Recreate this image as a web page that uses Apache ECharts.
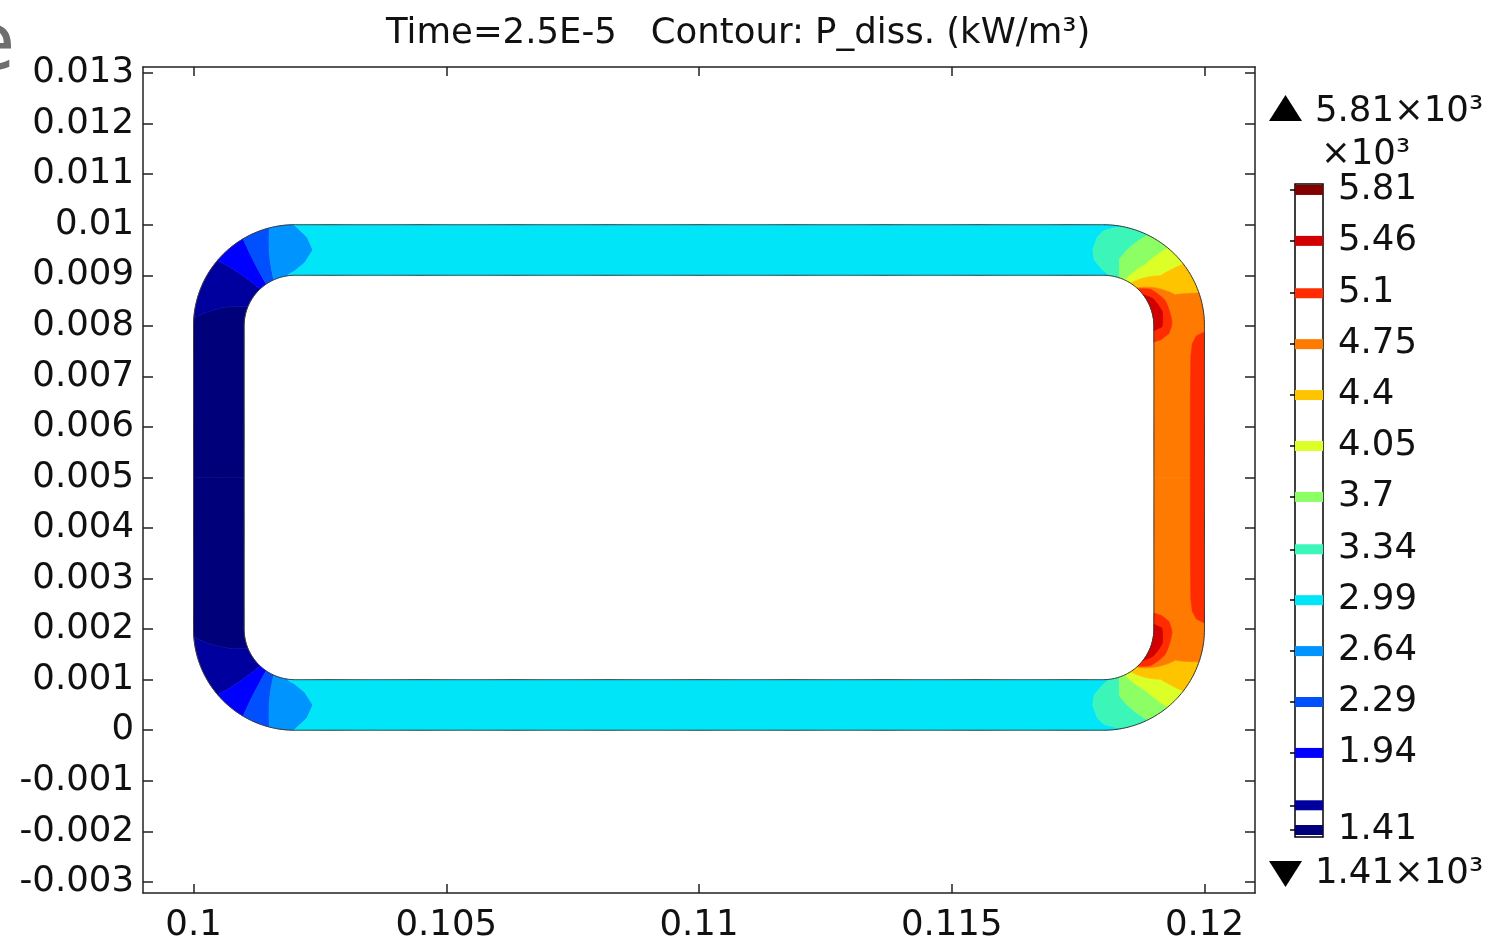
<!DOCTYPE html>
<html>
<head>
<meta charset="utf-8">
<script src="https://cdn.jsdelivr.net/npm/echarts@6/dist/echarts.min.js"></script>
<style>
  html, body { margin: 0; padding: 0; background: #fff; }
  #chart { width: 1512px; height: 941px; }
</style>
</head>
<body>
<div id="chart"></div>
<script>
// axis ticks
const xTicks = [0.1, 0.105, 0.11, 0.115, 0.12];
const yTicks = [-0.003, -0.002, -0.001, 0, 0.001, 0.002, 0.003, 0.004, 0.005,
  0.006, 0.007, 0.008, 0.009, 0.01, 0.011, 0.012, 0.013];

// contour levels (x10^3 kW/m^3) and their colours
const levels = [1.41, 1.58, 1.94, 2.29, 2.64, 2.99, 3.34, 3.7, 4.05, 4.4, 4.75, 5.1, 5.46, 5.81];
const levelColors = ['#00007a', '#00009e', '#0000ff', '#0050ff', '#0094ff', '#00e6f8',
  '#3cf5b8', '#8cff64', '#dcff28', '#ffc400', '#ff7a00', '#ff2c00', '#d20000', '#840000'];
const levelLabels = [5.81, 5.46, 5.1, 4.75, 4.4, 4.05, 3.7, 3.34, 2.99, 2.64, 2.29, 1.94, 1.41];

// ring geometry (m): outer box and corner radii (inner, outer)
const ringX = [0.1, 0.12];
const ringY = [0, 0.01];
const ringR = [0.001, 0.002];

// contour boundaries across the upper half of the ring, as [s, t]
// s: position along the ring (mm units, 0 = left middle, 24 = right middle), t: 0 inner .. 1 outer
const bandEdges = [
  [[0, 0], [0, 1]],
  [[3.25, 0], [3.05, 1]],
  [[3.52, 0], [3.45, 1]],
  [[3.62, 0], [3.66, 1]],
  [[3.73, 0], [3.84, 1]],
  [[3.9, 0], [4.2, 0.25], [4.36, 0.5], [4.25, 0.75], [3.99, 1]],
  [[20.08, 0], [19.82, 0.3], [19.79, 0.5], [19.88, 0.75], [20.12, 1]],
  [[20.2, 0], [20.15, 0.35], [20.2, 0.6], [20.29, 1]],
  [[20.28, 0], [20.38, 0.45], [20.44, 1]],
  [[20.36, 0], [20.54, 0.5], [20.58, 1]],
  [[20.46, 0], [20.74, 0.55], [20.79, 1]],
  [[24, 0], [24, 1]]
];
const bandLevels = [0, 1, 2, 3, 4, 5, 6, 7, 8, 9, 10];

// hot spots (closed against the ring edge they start on)
const hotStrip = [[21.12, 1], [21.2, 0.84], [21.35, 0.76], [21.6, 0.73], [22.5, 0.72], [24, 0.72], [24, 1]];
const hotCorner = [[20.48, 0], [20.58, 0.18], [20.75, 0.32], [20.97, 0.36], [21.15, 0.3], [21.27, 0.15], [21.32, 0]];
const hotCore = [[20.58, 0], [20.68, 0.12], [20.85, 0.2], [21.02, 0.16], [21.1, 0]];
const hotLevels = [11, 11, 12];

const MM = 0.001;
const cxL = ringX[0] + ringR[1], cxR = ringX[1] - ringR[1];
const cyT = ringY[1] - ringR[1], yMid = (ringY[0] + ringY[1]) / 2;
const sA = (cyT - yMid) / MM, sB = sA + 1, sC = sB + (cxR - cxL) / MM, sD = sC + 1, sEnd = sD + sA;

function ringPoint(s, t, flip) {
  const r = ringR[0] + (ringR[1] - ringR[0]) * t;
  let x, y;
  if (s <= sA) { x = cxL - r; y = yMid + s * MM; }
  else if (s <= sB) { const a = Math.PI - (s - sA) * Math.PI / 2; x = cxL + r * Math.cos(a); y = cyT + r * Math.sin(a); }
  else if (s <= sC) { x = cxL + (s - sB) * MM; y = cyT + r; }
  else if (s <= sD) { const a = Math.PI / 2 - (s - sC) * Math.PI / 2; x = cxR + r * Math.cos(a); y = cyT + r * Math.sin(a); }
  else { x = cxR + r; y = cyT - (s - sD) * MM; }
  if (flip) y = ringY[0] + ringY[1] - y;
  return [x, y];
}

// densify a polyline in (s,t)
function walk(pts) {
  const out = [];
  for (let i = 0; i < pts.length - 1; i++) {
    const [s0, t0] = pts[i], [s1, t1] = pts[i + 1];
    const n = Math.max(2, Math.ceil(Math.abs(s1 - s0) / 0.02), Math.ceil(Math.abs(t1 - t0) / 0.05));
    for (let k = 0; k < n; k++) out.push([s0 + (s1 - s0) * k / n, t0 + (t1 - t0) * k / n]);
  }
  out.push(pts[pts.length - 1]);
  return out;
}

const shapes = [];
for (let i = 0; i < bandEdges.length - 1; i++) {
  const a = bandEdges[i], b = bandEdges[i + 1];
  const st = [].concat(
    walk(a),
    walk([a[a.length - 1], b[b.length - 1]]),
    walk(b.slice().reverse()),
    walk([b[0], a[0]])
  );
  shapes.push({ level: bandLevels[i], st });
}
[hotStrip, hotCorner, hotCore].forEach((p, i) => {
  const st = walk(p).concat(walk([p[p.length - 1], p[0]]));
  shapes.push({ level: hotLevels[i], st });
});

const shapeData = [];
shapes.forEach((sh, i) => { shapeData.push([i, 0]); shapeData.push([i, 1]); });

const fmt = v => String(parseFloat(v.toFixed(3)));
const FONT = 'DejaVu Sans';
const FS = 35.5;
const lineCol = '#222';

const chart = echarts.init(document.getElementById('chart'));
chart.setOption({
  animation: false,
  grid: [
    { left: 143, right: 257, top: 67, bottom: 48, outerBoundsMode: 'none', containLabel: false },
    { left: 1295, width: 28, top: 184, height: 653, outerBoundsMode: 'none', containLabel: false,
      show: true, borderColor: '#000', borderWidth: 1.5 }
  ],
  xAxis: [
    {
      gridIndex: 0, type: 'value', min: 0.099, max: 0.121, position: 'bottom',
      axisLine: { show: true, onZero: false, lineStyle: { color: lineCol, width: 1.5 } },
      axisTick: { show: true, inside: true, length: 9, customValues: xTicks, lineStyle: { color: lineCol, width: 1.5 } },
      axisLabel: { customValues: xTicks, formatter: fmt, fontFamily: FONT, fontSize: FS, color: '#111', margin: 15 },
      splitLine: { show: false }
    },
    {
      gridIndex: 0, type: 'value', min: 0.099, max: 0.121, position: 'top',
      axisLine: { show: true, onZero: false, lineStyle: { color: lineCol, width: 1.5 } },
      axisTick: { show: true, inside: true, length: 9, customValues: xTicks, lineStyle: { color: lineCol, width: 1.5 } },
      axisLabel: { show: false }, splitLine: { show: false }
    },
    { gridIndex: 1, type: 'value', min: 0, max: 1, show: false }
  ],
  yAxis: [
    {
      gridIndex: 0, type: 'value', min: -0.00322, max: 0.01312, position: 'left',
      axisLine: { show: true, onZero: false, lineStyle: { color: lineCol, width: 1.5 } },
      axisTick: { show: true, inside: true, length: 10, customValues: yTicks, lineStyle: { color: lineCol, width: 1.5 } },
      axisLabel: { customValues: yTicks, formatter: fmt, fontFamily: FONT, fontSize: FS, color: '#111', margin: 9, padding: [8, 0, 0, 0] },
      splitLine: { show: false }
    },
    {
      gridIndex: 0, type: 'value', min: -0.00322, max: 0.01312, position: 'right',
      axisLine: { show: true, onZero: false, lineStyle: { color: lineCol, width: 1.5 } },
      axisTick: { show: true, inside: true, length: 10, customValues: yTicks, lineStyle: { color: lineCol, width: 1.5 } },
      axisLabel: { show: false }, splitLine: { show: false }
    },
    {
      gridIndex: 1, type: 'value', min: 1.362, max: 5.851, position: 'right',
      axisLine: { show: false },
      axisTick: { show: true, inside: true, length: 5, customValues: levels, lineStyle: { color: '#000', width: 1.5 } },
      axisLabel: { customValues: levelLabels, formatter: v => String(v), fontFamily: FONT, fontSize: FS, color: '#111', margin: 15, padding: [4, 0, 0, 0] },
      splitLine: { show: false }
    },
    {
      gridIndex: 1, type: 'value', min: 1.362, max: 5.851, position: 'left',
      axisLine: { show: false },
      axisTick: { show: true, inside: true, length: 5, customValues: levels, lineStyle: { color: '#000', width: 1.5 } },
      axisLabel: { show: false }, splitLine: { show: false }
    }
  ],
  series: [
    {
      type: 'custom', name: 'P_diss', xAxisIndex: 0, yAxisIndex: 0,
      data: shapeData,
      renderItem: (params, api) => {
        const sh = shapes[api.value(0)];
        const flip = api.value(1) === 1;
        const points = sh.st.map(([s, t]) => api.coord(ringPoint(s, t, flip)));
        const c = levelColors[sh.level];
        return { type: 'polygon', shape: { points }, style: { fill: c, stroke: c, lineWidth: 0.6 } };
      }
    },
    {
      type: 'custom', name: 'edges', xAxisIndex: 0, yAxisIndex: 0,
      data: [[0, 0], [1, 0]],
      renderItem: (params, api) => {
        const t = api.value(0);
        const top = walk([[0, t], [sEnd, t]]);
        const pts = top.map(([s]) => api.coord(ringPoint(s, t, false)))
          .concat(top.slice().reverse().map(([s]) => api.coord(ringPoint(s, t, true))));
        return { type: 'polygon', shape: { points: pts }, style: { fill: 'none', stroke: '#3a3a3a', lineWidth: 1 } };
      }
    },
    {
      type: 'custom', name: 'legend', xAxisIndex: 2, yAxisIndex: 2,
      data: levels.map((v, i) => [0.5, v, i]),
      encode: { x: 0, y: 1 },
      renderItem: (params, api) => {
        const v = api.value(1);
        const p0 = api.coord([0, v]), p1 = api.coord([1, v]);
        return { type: 'rect', shape: { x: p0[0], y: p0[1] - 5, width: p1[0] - p0[0], height: 10 },
          style: { fill: levelColors[api.value(2)] } };
      }
    }
  ],
  graphic: [
    { type: 'text', left: -34, top: 8, style: { text: 'e', font: '80px ' + FONT, fill: '#6e6e6e' } },
    { type: 'text', x: 386, y: 34, style: { text: 'Time=2.5E-5   Contour: P_diss. (kW/m³)', font: FS + 'px ' + FONT, fill: '#111', textVerticalAlign: 'middle' } },
    { type: 'polygon', shape: { points: [[1269, 121], [1302, 121], [1285.5, 95]] }, style: { fill: '#000' } },
    { type: 'text', x: 1315, y: 112, style: { text: '5.81×10³', font: FS + 'px ' + FONT, fill: '#111', textVerticalAlign: 'middle' } },
    { type: 'text', x: 1321, y: 155, style: { text: '×10³', font: FS + 'px ' + FONT, fill: '#111', textVerticalAlign: 'middle' } },
    { type: 'polygon', shape: { points: [[1269, 861], [1302, 861], [1285.5, 887]] }, style: { fill: '#000' } },
    { type: 'text', x: 1315, y: 874, style: { text: '1.41×10³', font: FS + 'px ' + FONT, fill: '#111', textVerticalAlign: 'middle' } }
  ]
});
</script>
</body>
</html>
